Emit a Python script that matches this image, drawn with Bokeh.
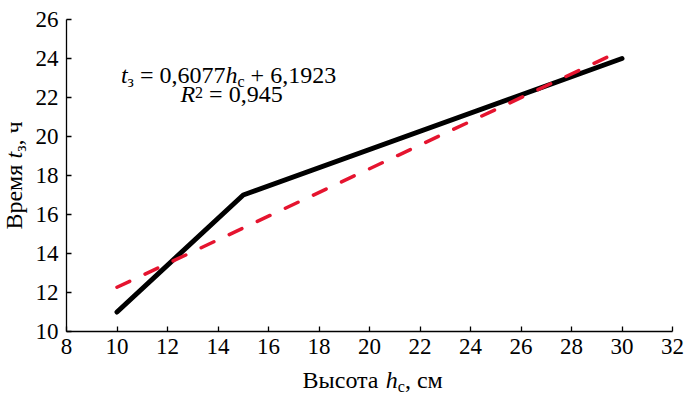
import math

from bokeh.embed import file_html
from bokeh.models import FixedTicker, Label, LinearAxis, Range1d
from bokeh.plotting import figure
from bokeh.resources import INLINE

# Measured drying time against layer height
heights = [10, 15, 30]          # h_c, cm
times = [11, 17, 24]            # t_z, h

# Linear fit reported on the chart
slope = 0.6077
intercept = 6.1923
r_squared = 0.945
fit_span = [10, 30]

x_ticks = [8, 10, 12, 14, 16, 18, 20, 22, 24, 26, 28, 30, 32]
y_ticks = [10, 12, 14, 16, 18, 20, 22, 24, 26]

W, H = 684, 396
FONT = "Liberation Serif"
TICK_SIZE = 23
TEXT_SIZE = 24
SUB_SIZE = 16
RED = "#E5142F"

# Approximate advance widths (em) of Liberation Serif for laying out
# mixed-style titles run by run.
EM_REGULAR = {
    " ": 0.25, ",": 0.25, "=": 0.564, "+": 0.564,
    "0": 0.5, "1": 0.5, "2": 0.5, "3": 0.5, "4": 0.5, "5": 0.5,
    "6": 0.5, "7": 0.5, "8": 0.5, "9": 0.5,
    "В": 0.667, "ы": 0.72, "с": 0.444, "о": 0.5, "т": 0.44, "а": 0.444,
    "м": 0.62, "р": 0.5, "е": 0.444, "я": 0.48, "ч": 0.5, "з": 0.40,
}
EM_ITALIC = {"t": 0.278, "h": 0.5, "R": 0.611}


def run_width(text, size, italic):
    table = EM_ITALIC if italic else EM_REGULAR
    return sum(table.get(ch, 0.5) for ch in text) * size


def place_runs(plot, runs, cx, base_y, angle=0.0):
    """Lay out (text, style) runs centred on cx with their baseline at base_y.

    style: "" regular, "i" italic, "sub" subscript, "sup" superscript.
    Positions are canvas pixels measured from the top-left corner; for a
    rotated title cx is the vertical centre and base_y the baseline column.
    """
    pieces = []
    for text, style in runs:
        fs = SUB_SIZE if style in ("sub", "sup") else TEXT_SIZE
        italic = style == "i"
        shift = {"sub": -3, "sup": 8}.get(style, 0)
        pieces.append((text, fs, italic, shift, run_width(text, fs, italic)))
    total = sum(pc[4] for pc in pieces)

    # work in screen space with y pointing up from the bottom edge
    if angle == 0.0:
        ox, oy = cx, H - base_y
    else:
        ox, oy = base_y, H - cx
    ax, ay = math.cos(angle), math.sin(angle)
    ux, uy = -math.sin(angle), math.cos(angle)
    pos = -total / 2
    for text, fs, italic, shift, w in pieces:
        body = text.lstrip(" ")
        lead = run_width(text[: len(text) - len(body)], fs, italic)
        # anchor at the bottom of the text box, just below the baseline
        rise = shift - 0.15 * fs
        plot.add_layout(Label(
            x=round(ox + ax * (pos + lead) + ux * rise, 1),
            y=round(oy + ay * (pos + lead) + uy * rise, 1),
            x_units="screen", y_units="screen",
            text=body, angle=angle,
            text_font=FONT, text_font_size=f"{fs}px",
            text_font_style="italic" if italic else "normal",
            text_align="left", text_baseline="bottom",
            text_color="black",
        ))
        pos += w


# The frame spans the whole canvas; the axes sit at fixed data locations
# so that every title piece lies inside the drawing area.
p = figure(
    width=W, height=H,
    x_range=Range1d(8 - 66 / 25.25, 32 + 12 / 25.25),
    y_range=Range1d(10 - 65 / 19.5, 26 + 19 / 19.5),
    output_backend="svg", toolbar_location=None,
    x_axis_type=None, y_axis_type=None,
    min_border=0,
)
p.outline_line_color = None
p.grid.visible = False
p.background_fill_color = "white"
p.border_fill_color = "white"

xaxis = LinearAxis(fixed_location=10, bounds=(8, 32),
                   ticker=FixedTicker(ticks=x_ticks))
yaxis = LinearAxis(fixed_location=8, bounds=(10, 26),
                   ticker=FixedTicker(ticks=y_ticks))
for axis in (xaxis, yaxis):
    axis.axis_line_color = "black"
    axis.axis_line_width = 1.3
    axis.major_tick_line_color = "black"
    axis.major_tick_line_width = 1.3
    axis.major_tick_in = 5
    axis.major_tick_out = 0
    axis.minor_tick_line_color = None
    axis.major_label_text_font = FONT
    axis.major_label_text_font_size = f"{TICK_SIZE}px"
    axis.major_label_text_color = "black"
xaxis.major_label_standoff = 7
yaxis.major_label_standoff = 8
p.add_layout(xaxis, "below")
p.add_layout(yaxis, "left")

# Measured curve
p.line(heights, times, line_color="black", line_width=5,
       line_join="round", line_cap="round")

# Linear trend from the fitted equation
fit_values = [slope * h + intercept for h in fit_span]
p.line(fit_span, fit_values, line_color=RED, line_width=3.5,
       line_dash="14 17", line_cap="round")


def comma(v, digits):
    return f"{v:.{digits}f}".replace(".", ",")


# Equation and coefficient of determination
place_runs(p, [("t", "i"), ("з", "sub"), (" = " + comma(slope, 4), ""),
               ("h", "i"), ("с", "sub"), (" + " + comma(intercept, 4), "")],
           cx=228, base_y=84)
place_runs(p, [("R", "i"), ("2", "sup"), (" = " + comma(r_squared, 3), "")],
           cx=231, base_y=103)

# Axis titles
place_runs(p, [("Высота ", ""), ("h", "i"), ("с", "sub"), (", см", "")],
           cx=372, base_y=389)
place_runs(p, [("Время ", ""), ("t", "i"), ("з", "sub"), (", ч", "")],
           cx=175, base_y=23, angle=math.pi / 2)

open("out.html", "w").write(file_html(p, INLINE))
